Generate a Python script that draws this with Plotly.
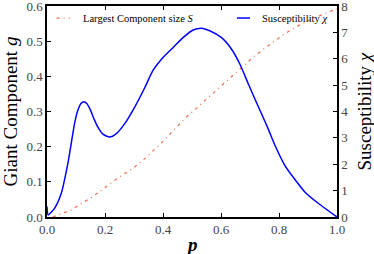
import plotly.graph_objects as go

# Largest component size S (left axis)
p_S = [0.02, 0.083, 0.158, 0.204, 0.25, 0.296, 0.337, 0.40, 0.475, 0.55, 0.609,
       0.671, 0.717, 0.763, 0.809, 0.855, 0.912, 0.981, 1.0]
S = [0.0, 0.02, 0.058, 0.086, 0.114, 0.138, 0.166, 0.215, 0.28, 0.335, 0.379,
     0.426, 0.459, 0.487, 0.515, 0.539, 0.563, 0.586, 0.592]

# Susceptibility chi (right axis)
p_X = [0.0, 0.004, 0.026, 0.049, 0.072, 0.095, 0.105, 0.117, 0.127, 0.137, 0.150,
       0.162, 0.175, 0.193, 0.216, 0.239, 0.268, 0.302, 0.337, 0.365, 0.40, 0.435,
       0.469, 0.504, 0.533, 0.561, 0.602, 0.636, 0.665, 0.694, 0.73, 0.762, 0.786,
       0.82, 0.855, 0.889, 0.934, 1.0]
X = [0.4, 0.08, 0.33, 0.89, 2.03, 3.54, 4.0, 4.3, 4.37, 4.3, 4.05,
     3.72, 3.42, 3.14, 3.03, 3.16, 3.54, 4.16, 4.9, 5.55, 6.05, 6.43,
     6.8, 7.09, 7.16, 7.06, 6.8, 6.37, 5.8, 5.05, 4.15, 3.36, 2.72,
     1.96, 1.42, 0.95, 0.53, 0.0]

x_ticks = [0.0, 0.2, 0.4, 0.6, 0.8, 1.0]
y_ticks = [0.0, 0.1, 0.2, 0.3, 0.4, 0.5, 0.6]
y2_ticks = [0, 1, 2, 3, 4, 5, 6, 7, 8]

RED = "#f4694c"
BLUE = "#0000ff"
FONT = "Liberation Serif"

fig = go.Figure()
fig.add_trace(go.Scatter(x=p_S, y=S, mode="lines", name="Largest Component size S",
                         line=dict(color=RED, width=1.2, dash="3px,4px,1px,4px"),
                         showlegend=False))
fig.add_trace(go.Scatter(x=p_X, y=X, mode="lines", name="Susceptibility χ", yaxis="y2",
                         line=dict(color=BLUE, width=1.5, shape="spline", smoothing=0.6),
                         showlegend=False))

axis_common = dict(showline=True, linecolor="black", linewidth=1.5, ticks="inside",
                   ticklen=4, tickcolor="black", showgrid=False, zeroline=False,
                   automargin=False, ticklabeloverflow="allow",
                   tickfont=dict(family=FONT, size=13, color="#444"))

fig.update_layout(
    width=374, height=254,
    margin=dict(l=47, r=37, t=6, b=37),
    paper_bgcolor="white", plot_bgcolor="white",
    font=dict(family=FONT),
    xaxis=dict(range=[0, 1], tickvals=x_ticks, tickformat=".1f", mirror="ticks",
               **axis_common),
    yaxis=dict(range=[0, 0.6], tickvals=y_ticks, tickformat=".1f",
               **axis_common),
    yaxis2=dict(range=[0, 8], tickvals=y2_ticks, overlaying="y", side="right",
                **axis_common),
    shapes=[
        dict(type="line", xref="paper", yref="paper", x0=0.033, x1=0.078, y0=0.943, y1=0.943,
             line=dict(color=RED, width=1.2, dash="3px,4px,1px,4px")),
        dict(type="line", xref="paper", yref="paper", x0=0.655, x1=0.70, y0=0.943, y1=0.943,
             line=dict(color=BLUE, width=1.5)),
    ],
    annotations=[
        dict(text="Largest Component size <i>S</i>", xref="paper", yref="paper",
             x=0.118, y=0.943, xanchor="left", yanchor="middle", showarrow=False,
             font=dict(family=FONT, size=10.5, color="black")),
        dict(text="Susceptibility <i>χ</i>", xref="paper", yref="paper",
             x=0.734, y=0.943, xanchor="left", yanchor="middle", showarrow=False,
             font=dict(family=FONT, size=10.5, color="black")),
        dict(text="Giant Component <i>g</i>", xref="paper", yref="paper",
             x=0, y=0.5, xshift=-37, textangle=-90, xanchor="center", yanchor="middle",
             showarrow=False, font=dict(family=FONT, size=19, color="black")),
        dict(text="Susceptibility <i>χ</i>", xref="paper", yref="paper",
             x=1, y=0.5, xshift=27, textangle=-90, xanchor="center", yanchor="middle",
             showarrow=False, font=dict(family=FONT, size=19, color="black")),
        dict(text="<b><i>p</i></b>", xref="paper", yref="paper",
             x=0.5, y=0, yshift=-27, xanchor="center", yanchor="middle",
             showarrow=False, font=dict(family=FONT, size=19, color="black")),
    ],
)

fig.write_html("out.html", config={"displayModeBar": False},
               post_script="document.body.style.margin='0';document.body.style.padding='0';")
